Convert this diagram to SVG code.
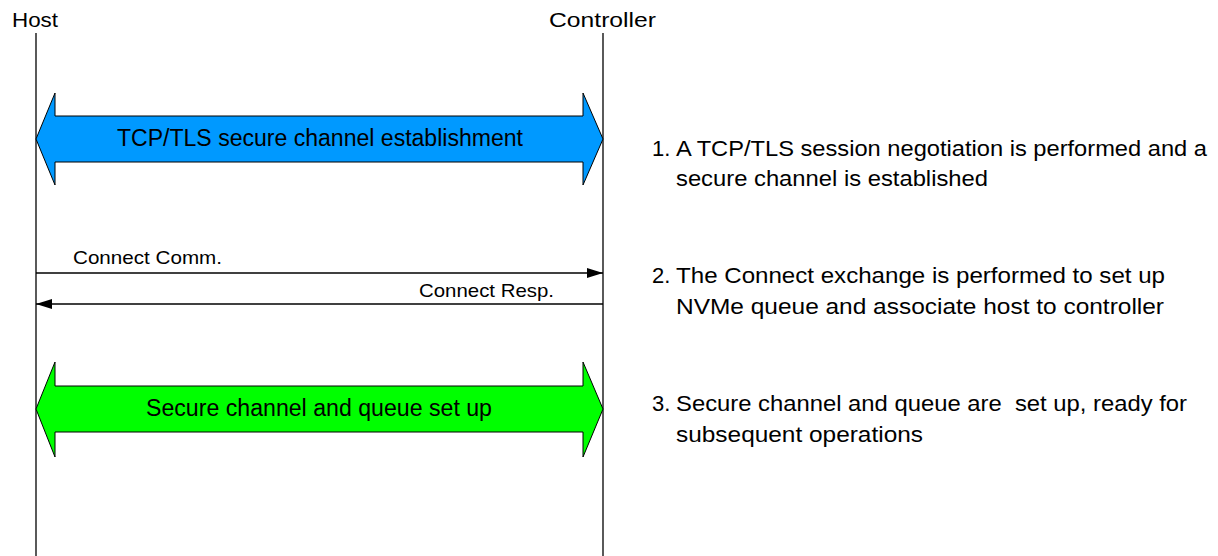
<svg xmlns="http://www.w3.org/2000/svg" width="1218" height="556" viewBox="0 0 1218 556">
<defs>
<style>
.life{stroke:#000;stroke-width:1.3;fill:none}
.hdr{font-family:"Liberation Sans",Arial,sans-serif;font-size:21px;fill:#000}
.band{stroke:#000;stroke-width:1}
.bt{font-family:"Liberation Sans",Arial,sans-serif;font-size:23px;fill:#000;text-anchor:middle}
.msg{stroke:#000;stroke-width:1.3;fill:none}
.ml{font-family:"Liberation Sans",Arial,sans-serif;font-size:19px;fill:#000}
.note{font-family:"Liberation Sans",Arial,sans-serif;font-size:22px;fill:#000}
</style>
<marker id="ah" viewBox="0 0 16 10" refX="16" refY="5" markerWidth="16" markerHeight="10" markerUnits="userSpaceOnUse" orient="auto">
<path d="M0,0 L16,5 L0,10 Z" fill="#000"/>
</marker>
</defs>
<rect width="1218" height="556" fill="#fff"/>
<g id="host">
<text class="hdr" x="12" y="27" textLength="46" lengthAdjust="spacingAndGlyphs">Host</text>
<line class="life" x1="36" y1="33" x2="36" y2="556"/>
</g>
<g id="controller">
<text class="hdr" x="549" y="27" textLength="107" lengthAdjust="spacingAndGlyphs">Controller</text>
<line class="life" x1="603" y1="33" x2="603" y2="556"/>
</g>
<g id="tls-band">
<path class="band" fill="#0099ff" d="M36,139 L55,93 L55,116 L583,116 L583,93 L603,139 L583,185 L583,162 L55,162 L55,185 Z"/>
<text class="bt" x="320" y="146" textLength="406" lengthAdjust="spacingAndGlyphs">TCP/TLS secure channel establishment</text>
</g>
<g id="setup-band">
<path class="band" fill="#00ff00" d="M36,409 L55,362 L55,386 L583,386 L583,362 L603,409 L583,457 L583,432 L55,432 L55,457 Z"/>
<text class="bt" x="319" y="416" textLength="346" lengthAdjust="spacingAndGlyphs">Secure channel and queue set up</text>
</g>
<g id="connectors">
<line class="msg" x1="36" y1="273" x2="603" y2="273" marker-end="url(#ah)"/>
<text class="ml" x="73" y="264" textLength="149" lengthAdjust="spacingAndGlyphs">Connect Comm.</text>
<line class="msg" x1="603" y1="304" x2="36" y2="304" marker-end="url(#ah)"/>
<text class="ml" x="419" y="297" textLength="135" lengthAdjust="spacingAndGlyphs">Connect Resp.</text>
</g>
<g id="notes">
<text class="note" x="652" y="156">1.</text>
<text class="note" x="676" y="156" textLength="531" lengthAdjust="spacingAndGlyphs">A TCP/TLS session negotiation is performed and a</text>
<text class="note" x="676" y="186" textLength="312" lengthAdjust="spacingAndGlyphs">secure channel is established</text>
<text class="note" x="652" y="283">2.</text>
<text class="note" x="676" y="283" textLength="489" lengthAdjust="spacingAndGlyphs">The Connect exchange is performed to set up</text>
<text class="note" x="676" y="314" textLength="488" lengthAdjust="spacingAndGlyphs">NVMe queue and associate host to controller</text>
<text class="note" x="652" y="411">3.</text>
<text class="note" x="676" y="411" textLength="511" lengthAdjust="spacingAndGlyphs">Secure channel and queue are &#160;set up, ready for</text>
<text class="note" x="676" y="442" textLength="247" lengthAdjust="spacingAndGlyphs">subsequent operations</text>
</g>
</svg>
